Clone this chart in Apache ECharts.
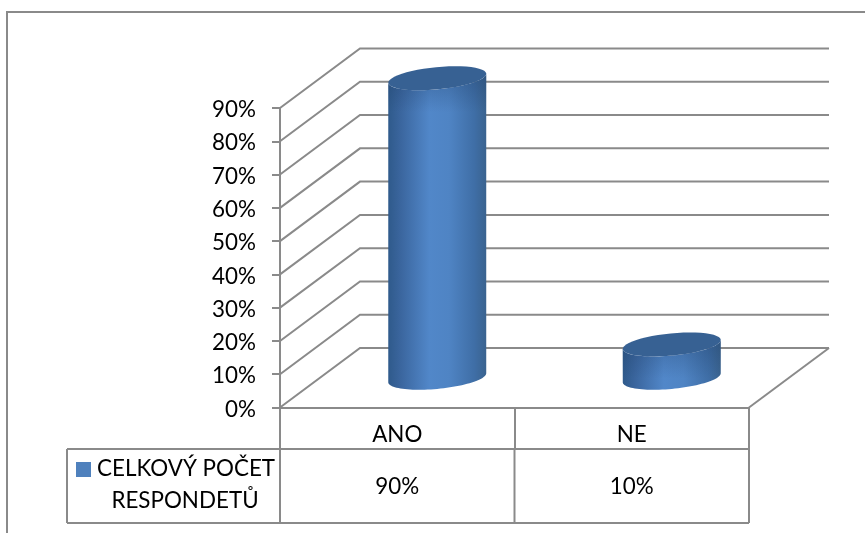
<!DOCTYPE html>
<html>
<head>
<meta charset="utf-8">
<title>Celkový počet respondentů</title>
<style>html,body{margin:0;padding:0;background:#fff}#chart{width:865px;height:533px}</style>
<script src="https://cdn.jsdelivr.net/npm/echarts@6/dist/echarts.min.js"></script>
</head>
<body>
<div id="chart"></div>
<script>
// Survey answers, in percent
const categories = ['ANO', 'NE'];
const responses = [90, 10];
const seriesName = 'CELKOVÝ POČET RESPONDETŮ';
const legendLines = ['CELKOVÝ POČET', 'RESPONDETŮ'];
const gridLevels = [0, 10, 20, 30, 40, 50, 60, 70, 80, 90];

// Oblique projection of the floor and the tilted cylinder ends
const DEPTH_X = 80, DEPTH_Y = -59.5;
const RX = 49.2, RY = 11.1, TILT = 5.5 * Math.PI / 180;
const LINE = '#8a8a8a';
const FONT = 'Lato, "Open Sans", sans-serif';
const FONT_SIZE = 22.4;
const TABLE_BOTTOM = 523, TABLE_TOP = 449, TABLE_LEFT = 67;

// Point on a tilted ellipse around (cx, cy)
function ellipsePoint(cx, cy, t) {
  return [
    cx + RX * Math.cos(t) * Math.cos(TILT) + RY * Math.sin(t) * Math.sin(TILT),
    cy - RX * Math.cos(t) * Math.sin(TILT) + RY * Math.sin(t) * Math.cos(TILT)
  ];
}
function arcPoints(cx, cy, from, to) {
  const pts = [];
  for (let i = 0; i <= 48; i++) pts.push(ellipsePoint(cx, cy, from + (to - from) * i / 48));
  return pts;
}

// Side walls and floor edge, one polyline per axis level
function renderWall(params, api) {
  const rect = params.coordSys;
  const y = api.coord([0, api.value(1)])[1];
  const backX = rect.x + DEPTH_X, backY = y + DEPTH_Y;
  const children = [{
    type: 'polyline',
    shape: { points: [[rect.x, y], [backX, backY], [rect.x + rect.width + DEPTH_X, backY]] },
    style: { stroke: LINE, lineWidth: 2, fill: null }
  }];
  if (api.value(1) === 0) {
    children.push({
      type: 'line',
      shape: { x1: rect.x + rect.width, y1: y, x2: rect.x + rect.width + DEPTH_X, y2: backY },
      style: { stroke: LINE, lineWidth: 2 }
    });
  }
  return { type: 'group', children };
}

// One cylinder standing halfway into the floor depth
function renderCylinder(params, api) {
  const top = api.coord([api.value(0), api.value(1)]);
  const base = api.coord([api.value(0), 0]);
  const cx = top[0] + DEPTH_X / 2;
  const topY = top[1] + DEPTH_Y / 2;
  const baseY = base[1] + DEPTH_Y / 2;
  const t0 = Math.atan2(RY * Math.sin(TILT), RX * Math.cos(TILT));
  const side = arcPoints(cx, baseY, t0, t0 + Math.PI).concat(arcPoints(cx, topY, t0 + Math.PI, t0));
  return {
    type: 'group',
    children: [{
      type: 'polygon',
      shape: { points: side },
      style: {
        fill: {
          type: 'linear', x: 0, y: 0, x2: 1, y2: 0,
          colorStops: [
            { offset: 0, color: '#2f5a8b' },
            { offset: 0.12, color: '#3a659d' },
            { offset: 0.42, color: '#5187c9' },
            { offset: 0.62, color: '#4f84c4' },
            { offset: 0.88, color: '#3f6ea6' },
            { offset: 1, color: '#3a638f' }
          ]
        }
      }
    }, {
      // soft shade just under the cap
      type: 'polygon',
      shape: { points: side },
      style: {
        fill: {
          type: 'linear', global: true, x: 0, y: topY, x2: 0, y2: topY + 34,
          colorStops: [
            { offset: 0, color: 'rgba(30,60,100,0.32)' },
            { offset: 1, color: 'rgba(30,60,100,0)' }
          ]
        }
      }
    }, {
      type: 'polygon',
      shape: { points: arcPoints(cx, topY, 0, Math.PI * 2) },
      style: { fill: '#376193' }
    }]
  };
}

// Data table under the axis: frame and value cells
function renderTable(params, api) {
  const rect = params.coordSys;
  const idx = api.value(0);
  const right = rect.x + rect.width;
  const band = rect.width / categories.length;
  const x = api.coord([idx, 0])[0];
  const line = (x1, y1, x2, y2) => ({
    type: 'line', shape: { x1, y1, x2, y2 }, style: { stroke: LINE, lineWidth: 2 }
  });
  const children = [
    line(x + band / 2, TABLE_TOP, x + band / 2, TABLE_BOTTOM),
    {
      type: 'text',
      style: {
        x, y: (TABLE_TOP + TABLE_BOTTOM) / 2 + 1,
        text: api.value(1) + '%', fill: '#000', font: FONT_SIZE + 'px ' + FONT,
        align: 'center', verticalAlign: 'middle'
      }
    }
  ];
  if (idx === 0) {
    children.push(
      line(TABLE_LEFT, TABLE_TOP, right, TABLE_TOP),
      line(TABLE_LEFT, TABLE_BOTTOM, right, TABLE_BOTTOM),
      line(TABLE_LEFT, TABLE_TOP, TABLE_LEFT, TABLE_BOTTOM),
      line(rect.x, TABLE_TOP, rect.x, TABLE_BOTTOM)
    );
  }
  return { type: 'group', children };
}

const chart = echarts.init(document.getElementById('chart'), null, { renderer: 'canvas' });
chart.setOption({
  animation: false,
  backgroundColor: '#fff',
  grid: { left: 280, right: 116, top: 108, bottom: 125.5 },
  xAxis: {
    type: 'category',
    data: categories,
    axisLine: { lineStyle: { color: LINE, width: 2 } },
    axisTick: { show: true, length: 42, lineStyle: { color: LINE, width: 2 } },
    axisLabel: { color: '#000', fontFamily: FONT, fontSize: FONT_SIZE, margin: 16 },
    splitLine: { show: false }
  },
  yAxis: {
    type: 'value',
    min: 0,
    max: 90,
    interval: 10,
    axisLine: { show: true, lineStyle: { color: LINE, width: 2 } },
    axisTick: { show: true, length: 8, lineStyle: { color: LINE, width: 2 } },
    // a short line box set from the tick downward sits the digits slightly below tick level
    axisLabel: { color: '#000', fontFamily: FONT, fontSize: FONT_SIZE, margin: 24, verticalAlign: 'top', lineHeight: 4, formatter: '{value}%' },
    splitLine: { show: false }
  },
  series: [{
    type: 'custom', name: 'walls', silent: true, z: 1,
    renderItem: renderWall,
    encode: { x: 0, y: 1 },
    data: gridLevels.map(v => [0, v])
  }, {
    type: 'custom', name: seriesName, silent: true, z: 3,
    renderItem: renderCylinder,
    encode: { x: 0, y: 1 },
    data: responses.map((v, i) => [i, v])
  }, {
    type: 'custom', name: 'table', silent: true, z: 2,
    renderItem: renderTable,
    encode: { x: 0, y: 1 },
    data: responses.map((v, i) => [i, v])
  }],
  graphic: [
    { type: 'polyline', silent: true, shape: { points: [[7, 533], [7, 12], [865, 12]] }, style: { stroke: LINE, lineWidth: 2, fill: null } },
    { type: 'rect', silent: true, shape: { x: 76, y: 462, width: 15, height: 15 }, style: { fill: '#4f81bd' } },
    { type: 'text', silent: true, style: { x: 97, y: 469, text: legendLines[0], fill: '#000', font: FONT_SIZE + 'px ' + FONT, verticalAlign: 'middle' } },
    { type: 'text', silent: true, style: { x: 185, y: 501, text: legendLines[1], fill: '#000', font: FONT_SIZE + 'px ' + FONT, align: 'center', verticalAlign: 'middle' } }
  ]
});
</script>
</body>
</html>
